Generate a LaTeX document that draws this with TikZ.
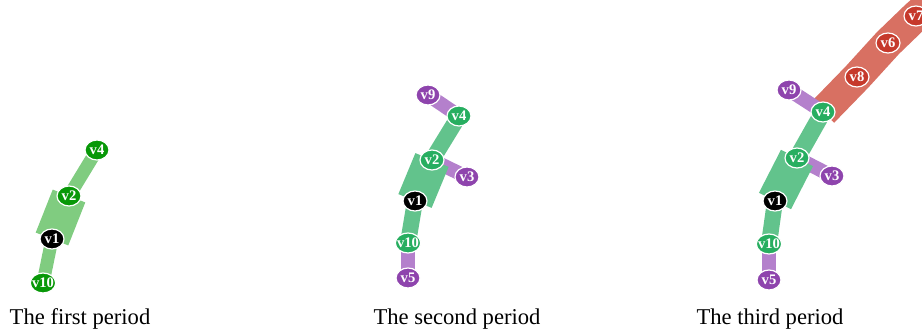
\documentclass[tikz,border=0pt]{standalone}
\usepackage{fontspec}
\setmainfont{Liberation Serif}
\usetikzlibrary{shapes.geometric,backgrounds}
\definecolor{grnA}{RGB}{8,152,8}
\definecolor{grnAband}{RGB}{128,204,128}
\definecolor{grnB}{RGB}{39,174,96}
\definecolor{grnBband}{RGB}{98,195,140}
\definecolor{purp}{RGB}{142,68,173}
\definecolor{purpband}{RGB}{180,128,204}
\definecolor{redn}{RGB}{198,57,43}
\definecolor{redband}{RGB}{216,112,98}
\tikzset{
  vtx/.style   ={ellipse,draw=white,line width=0.6pt,minimum width=12pt,
                 minimum height=10pt,inner xsep=-1pt,inner ysep=1pt,
                 text=white,font=\fontsize{7.3}{7}\selectfont\bfseries},
  rootv/.style ={vtx,fill=black},
  grA/.style   ={vtx,fill=grnA},
  grB/.style   ={vtx,fill=grnB},
  puv/.style   ={vtx,fill=purp},
  rdv/.style   ={vtx,fill=redn},
  band/.style  ={line cap=butt,line join=round},
  thinA/.style ={band,draw=grnAband,line width=6.5pt},
  wideA/.style ={band,draw=grnAband,line width=17.5pt},
  thinB/.style ={band,draw=grnBband,line width=8pt},
  wideB/.style ={band,draw=grnBband,line width=18pt},
  pband/.style ={band,draw=purpband,line width=7pt},
  rband/.style ={band,draw=redband,line width=15.5pt},
  caption/.style ={font=\fontsize{11.3}{13}\selectfont,inner sep=0pt},
}
\begin{document}
\begin{tikzpicture}[x=0.5pt,y=-0.5pt]
\useasboundingbox (0,0) rectangle (922,330);
\clip (0,0) rectangle (922,330);

%% ---------------- first period ----------------
\node[grA]   (a4)  at ( 97,150) {v4};
\node[grA]   (a2)  at ( 69,196) {v2};
\node[rootv] (a1)  at ( 52,239) {v1};
\node[grA]   (a10) at ( 43,283) {v10};
\node[caption] (capA) at ( 80,319) {The first period};

\begin{scope}[on background layer]
  \draw[thinA] (a4.center) -- (a2.center);
  \draw[wideA] (a2.center) -- (a1.center);
  \draw[thinA] (a1.center) -- (a10.center);
\end{scope}

%% ---------------- second period ----------------
\node[puv]   (b9)  at (428, 95) {v9};
\node[grB]   (b4)  at (459,116) {v4};
\node[grB]   (b2)  at (432,160) {v2};
\node[puv]   (b3)  at (467,177) {v3};
\node[rootv] (b1)  at (415,201) {v1};
\node[grB]   (b10) at (408,243) {v10};
\node[puv]   (b5)  at (408,278) {v5};
\node[caption] (capB) at (457,319) {The second period};

\begin{scope}[on background layer]
  \foreach \u/\v in {b9/b4, b2/b3, b10/b5}
    \draw[pband] (\u.center) -- (\v.center);
  \draw[thinB] (b4.center) -- (b2.center);
  \draw[wideB] (b2.center) -- (b1.center);
  \draw[thinB] (b1.center) -- (b10.center);
\end{scope}

%% ---------------- third period ----------------
\node[puv]   (c9)  at (789, 90) {v9};
\node[grB]   (c4)  at (823,112) {v4};
\node[rdv]   (c8)  at (857, 77) {v8};
\node[rdv]   (c6)  at (888, 43) {v6};
\node[rdv]   (c7)  at (916, 16) {v7};
\node[grB]   (c2)  at (797,158) {v2};
\node[puv]   (c3)  at (832,176) {v3};
\node[rootv] (c1)  at (775,201) {v1};
\node[grB]   (c10) at (769,244) {v10};
\node[puv]   (c5)  at (769,280) {v5};
\coordinate  (cend) at (950,-14);
\node[caption] (capC) at (770,319) {The third period};

\begin{scope}[on background layer]
  \draw[rband] (c4.center) -- (c8.center) -- (c6.center) -- (c7.center) -- (cend);
  \foreach \u/\v in {c9/c4, c2/c3, c10/c5}
    \draw[pband] (\u.center) -- (\v.center);
  \draw[thinB,line width=8.5pt] (c4.center) -- (c2.center);
  \draw[wideB] (c2.center) -- (c1.center);
  \draw[thinB] (c1.center) -- (c10.center);
\end{scope}

\end{tikzpicture}
\end{document}
